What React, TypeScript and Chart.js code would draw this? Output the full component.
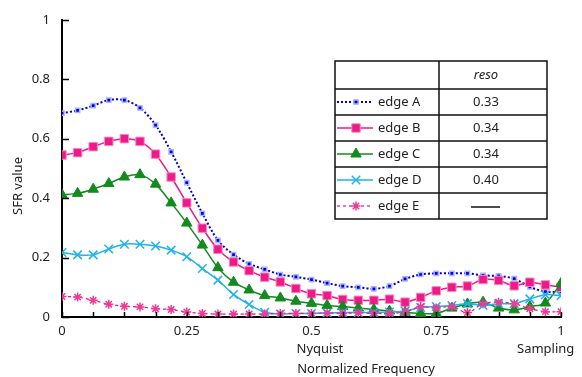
import React, { useEffect, useRef } from "react";
import { Chart, registerables } from "chart.js";
import { drawPoint } from "chart.js/helpers";

Chart.register(...registerables);

const freq = [0, 0.03125, 0.0625, 0.09375, 0.125, 0.15625, 0.1875, 0.21875, 0.25, 0.28125, 0.3125, 0.34375, 0.375, 0.40625, 0.4375, 0.46875, 0.5, 0.53125, 0.5625, 0.59375, 0.625, 0.65625, 0.6875, 0.71875, 0.75, 0.78125, 0.8125, 0.84375, 0.875, 0.90625, 0.9375, 0.96875, 1];

const edgeA = [0.686, 0.695, 0.711, 0.73, 0.73, 0.704, 0.646, 0.556, 0.452, 0.349, 0.258, 0.21, 0.179, 0.16, 0.143, 0.135, 0.126, 0.114, 0.104, 0.1, 0.095, 0.104, 0.128, 0.143, 0.147, 0.147, 0.147, 0.14, 0.138, 0.129, 0.101, 0.085, 0.085];
const edgeB = [0.545, 0.553, 0.573, 0.591, 0.6, 0.591, 0.548, 0.471, 0.384, 0.299, 0.228, 0.185, 0.156, 0.134, 0.118, 0.096, 0.078, 0.072, 0.059, 0.056, 0.056, 0.06, 0.05, 0.066, 0.088, 0.1, 0.104, 0.126, 0.123, 0.105, 0.117, 0.108, 0.1];
const edgeC = [0.411, 0.416, 0.43, 0.449, 0.471, 0.479, 0.447, 0.384, 0.316, 0.242, 0.166, 0.117, 0.091, 0.072, 0.064, 0.053, 0.046, 0.039, 0.035, 0.03, 0.025, 0.02, 0.016, 0.012, 0.012, 0.03, 0.044, 0.05, 0.03, 0.024, 0.035, 0.047, 0.113];
const edgeD = [0.217, 0.209, 0.209, 0.229, 0.245, 0.245, 0.239, 0.225, 0.203, 0.163, 0.124, 0.076, 0.042, 0.016, 0.01, 0.012, 0.012, 0.014, 0.015, 0.015, 0.016, 0.017, 0.02, 0.032, 0.035, 0.039, 0.045, 0.039, 0.045, 0.045, 0.061, 0.075, 0.072];
const edgeE = [0.069, 0.067, 0.056, 0.043, 0.036, 0.034, 0.028, 0.025, 0.017, 0.012, 0.01, 0.01, 0.01, 0.01, 0.012, 0.012, 0.012, 0.013, 0.012, 0.014, 0.012, 0.012, 0.017, 0.035, 0.03, 0.035, 0.015, 0.045, 0.05, 0.045, 0.028, 0.018, 0.018];

const seriesNames = ["edge A", "edge B", "edge C", "edge D", "edge E"];
const resoValues = ["0.33", "0.34", "0.34", "0.40", null];
const xTickLabels = [0, 0.25, 0.5, 0.75, 1];
const yTickLabels = [0, 0.2, 0.4, 0.6, 0.8, 1];
const xMinorTicks = [0, 0.0625, 0.125, 0.1875, 0.25, 0.3125, 0.375, 0.4375, 0.5, 0.5625, 0.625, 0.6875, 0.75, 0.8125, 0.875, 0.9375, 1];

const FONT = '"Noto Sans", sans-serif';

const styles = [
  { color: "#0000CC", pointStyle: "rect", radius: 3, bg: "#0000DD", border: "#A8B4FF", bw: 1.5, lw: 2, dash: [2, 2] },
  { color: "#EE1A8A", pointStyle: "rect", radius: 6, bg: "#EE1A8A", border: "#F58CC0", bw: 1, lw: 1.5, dash: [] },
  { color: "#138A1E", pointStyle: "triangle", radius: 6, bg: "#138A1E", border: "#138A1E", bw: 1, lw: 1.5, dash: [] },
  { color: "#1FB2EC", pointStyle: "crossRot", radius: 6, bg: "#1FB2EC", border: "#1FB2EC", bw: 1.5, lw: 1.5, dash: [] },
  { color: "#E8137F", pointStyle: "star", radius: 4.5, bg: "#F7A0CC", border: "#EE3A95", bw: 1.5, lw: 1.2, dash: [3, 3] },
];

const allSeries = [edgeA, edgeB, edgeC, edgeD, edgeE];

const decorPlugin = {
  id: "decor",
  afterDraw(chart: any) {
    const ctx = chart.ctx;
    const xs = chart.scales.x;
    const ys = chart.scales.y;
    const area = chart.chartArea;
    ctx.save();
    ctx.strokeStyle = "#000";
    ctx.lineWidth = 1.5;
    // inward ticks
    for (const v of xMinorTicks) {
      const px = Math.round(xs.getPixelForValue(v)) + 0.5;
      ctx.beginPath();
      ctx.moveTo(px, area.bottom);
      ctx.lineTo(px, area.bottom - 5);
      ctx.stroke();
    }
    for (const v of yTickLabels) {
      const py = Math.round(ys.getPixelForValue(v)) + 0.5;
      ctx.beginPath();
      ctx.moveTo(area.left, py);
      ctx.lineTo(area.left + 7, py);
      ctx.stroke();
    }
    // axis texts
    ctx.fillStyle = "#222";
    ctx.font = "13px " + FONT;
    ctx.textBaseline = "middle";
    ctx.textAlign = "left";
    ctx.fillText("Nyquist", xs.getPixelForValue(0.5) - 15, 349);
    ctx.fillText("Sampling", xs.getPixelForValue(1) - 44, 349);
    ctx.textAlign = "center";
    ctx.fillText("Normalized Frequency", 366, 369);
    ctx.save();
    ctx.translate(18, 186);
    ctx.rotate(-Math.PI / 2);
    ctx.fillText("SFR value", 0, 0);
    ctx.restore();

    // legend table
    const L = 335, M = 439, R = 547, T = 61;
    const rowLines = [T, 89, 115, 141, 167, 193, 219];
    ctx.fillStyle = "#fff";
    ctx.fillRect(L, T, R - L, rowLines[6] - T);
    ctx.strokeStyle = "#111";
    ctx.lineWidth = 1.5;
    ctx.strokeRect(L, T, R - L, rowLines[6] - T);
    for (let i = 1; i < 6; i++) {
      ctx.beginPath();
      ctx.moveTo(L, rowLines[i]);
      ctx.lineTo(R, rowLines[i]);
      ctx.stroke();
    }
    ctx.beginPath();
    ctx.moveTo(M, T);
    ctx.lineTo(M, rowLines[6]);
    ctx.stroke();
    ctx.fillStyle = "#222";
    ctx.font = "italic 13px " + FONT;
    ctx.textAlign = "center";
    ctx.fillText("reso", 486, (rowLines[0] + rowLines[1]) / 2);
    for (let i = 0; i < 5; i++) {
      const cy = (rowLines[i + 1] + rowLines[i + 2]) / 2;
      const s = styles[i];
      ctx.save();
      ctx.strokeStyle = s.color;
      ctx.lineWidth = s.lw;
      ctx.setLineDash(s.dash);
      ctx.beginPath();
      ctx.moveTo(L + 2, cy);
      ctx.lineTo(L + 38, cy);
      ctx.stroke();
      ctx.setLineDash([]);
      ctx.fillStyle = s.bg;
      ctx.strokeStyle = s.border;
      ctx.lineWidth = s.bw;
      drawPoint(ctx, { pointStyle: s.pointStyle, radius: s.radius, rotation: 0, borderWidth: s.bw } as any, L + 21, cy);
      ctx.restore();
      ctx.fillStyle = "#222";
      ctx.font = "13px " + FONT;
      ctx.textAlign = "left";
      ctx.fillText(seriesNames[i], L + 43, cy);
      ctx.textAlign = "center";
      const rv = resoValues[i];
      if (rv) {
        ctx.fillText(rv, 486, cy);
      } else {
        ctx.strokeStyle = "#111";
        ctx.lineWidth = 1.5;
        ctx.beginPath();
        ctx.moveTo(471, cy + 1);
        ctx.lineTo(500, cy + 1);
        ctx.stroke();
      }
    }
    ctx.restore();
  },
};

export default function App() {
  const ref = useRef<HTMLCanvasElement | null>(null);
  useEffect(() => {
    document.body.style.margin = "0";
    if (!ref.current) return;
    const datasets = allSeries.map((vals, i) => {
      const s = styles[i];
      return {
        label: seriesNames[i],
        data: freq.map((f, j) => ({ x: f, y: vals[j] })),
        borderColor: s.color,
        backgroundColor: s.bg,
        borderWidth: s.lw,
        borderDash: s.dash,
        pointStyle: s.pointStyle,
        pointRadius: s.radius,
        pointBackgroundColor: s.bg,
        pointBorderColor: s.border,
        pointBorderWidth: s.bw,
        tension: 0.3,
        fill: false,
      };
    });
    const chart = new Chart(ref.current, {
      type: "line",
      data: { datasets: datasets.reverse() as any },
      options: {
        animation: false,
        responsive: true,
        maintainAspectRatio: false,
        layout: { padding: { top: 12, right: 21, left: 0, bottom: 0 } },
        plugins: { legend: { display: false }, tooltip: { enabled: false }, title: { display: false } },
        scales: {
          x: {
            type: "linear",
            min: 0,
            max: 1,
            afterBuildTicks: (sc: any) => {
              sc.ticks = xTickLabels.map((v) => ({ value: v }));
            },
            afterFit: (sc: any) => {
              sc.height = 60;
            },
            ticks: {
              autoSkip: false,
              maxRotation: 0,
              padding: 6,
              color: "#222",
              font: { family: FONT, size: 13 },
              callback: (v: any) => String(v),
            },
            grid: { display: false, drawTicks: false },
            border: { display: true, color: "#000", width: 2 },
          },
          y: {
            min: 0,
            max: 1,
            afterBuildTicks: (sc: any) => {
              sc.ticks = yTickLabels.map((v) => ({ value: v }));
            },
            afterFit: (sc: any) => {
              sc.width = 62;
            },
            ticks: {
              padding: 12,
              color: "#222",
              font: { family: FONT, size: 13 },
              callback: (v: any) => (v === 0 || v === 1 ? String(v) : Number(v).toFixed(1)),
            },
            grid: { display: false, drawTicks: false },
            border: { display: true, color: "#000", width: 2 },
          },
        },
      },
      plugins: [decorPlugin],
    });
    return () => chart.destroy();
  }, []);
  return (
    <div style={{ width: 582, height: 377, position: "relative" }}>
      <canvas ref={ref} />
    </div>
  );
}
